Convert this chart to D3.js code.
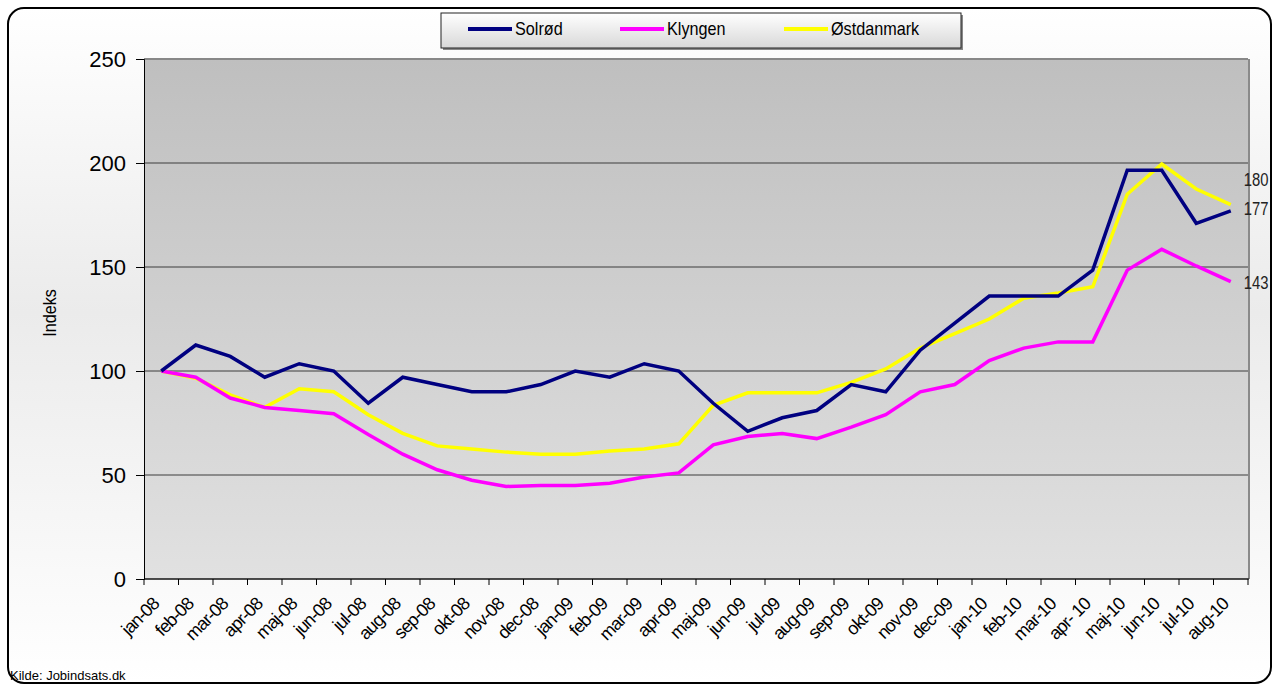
<!DOCTYPE html>
<html>
<head>
<meta charset="utf-8">
<script src="https://cdn.jsdelivr.net/npm/d3@7"></script>
<style>
  body { margin: 0; background: #fff; }
  svg text { font-family: Arial, "Liberation Sans", sans-serif; }
</style>
</head>
<body>
<svg id="s" width="1273" height="686"></svg>
<script>
var months = ["jan-08","feb-08","mar-08","apr-08","maj-08","jun-08","jul-08","aug-08","sep-08","okt-08","nov-08","dec-08",
              "jan-09","feb-09","mar-09","apr-09","maj-09","jun-09","jul-09","aug-09","sep-09","okt-09","nov-09","dec-09",
              "jan-10","feb-10","mar-10","apr- 10","maj-10","jun-10","jul-10","aug-10"];

var solrod = [100,112.5,107,97,103.5,100,84.5,97,93.5,90,90,93.5,100,97,103.5,100,84.5,71,77.5,81,93.5,90,110,123,136,136,136,148.5,196.5,196.5,171,177];
var klyngen = [100,97,87,82.5,81,79.5,69.5,60,52.5,47.5,44.5,45,45,46,49,51,64.5,68.5,70,67.5,73,79,90,93.5,105,111,114,114,148.5,158.5,150.5,143];
var ostdanmark = [100,96.5,88.5,82.5,91.5,90,79,70,64,62.5,61,60,60,61.5,62.5,65,83.5,89.5,89.5,89.5,94.5,101,111,118,125,135,137.5,140.5,185,199.5,187.5,180];

var seriesNames = ["Solrød","Klyngen","Østdanmark"];
var seriesColors = ["#000080","#ff00ff","#ffff00"];
var yTicks = [0,50,100,150,200,250];
var endLabels = ["177","143","180"];
var labelNudge = [-3, 0, -26];

var svg = d3.select("#s");
var defs = svg.append("defs");

var bgGrad = defs.append("linearGradient").attr("id","bg").attr("x1",0).attr("y1",0).attr("x2",0).attr("y2",1);
bgGrad.append("stop").attr("offset","0%").attr("stop-color","#ffffff");
bgGrad.append("stop").attr("offset","45%").attr("stop-color","#ebebeb");
bgGrad.append("stop").attr("offset","100%").attr("stop-color","#ffffff");

var plotGrad = defs.append("linearGradient").attr("id","pg").attr("x1",0).attr("y1",0).attr("x2",0).attr("y2",1);
plotGrad.append("stop").attr("offset","0%").attr("stop-color","#bfbfbf");
plotGrad.append("stop").attr("offset","100%").attr("stop-color","#e1e1e1");

var legGrad = defs.append("linearGradient").attr("id","lg").attr("x1",0).attr("y1",0).attr("x2",0).attr("y2",1);
legGrad.append("stop").attr("offset","0%").attr("stop-color","#ffffff");
legGrad.append("stop").attr("offset","100%").attr("stop-color","#d8d8d8");

// outer frame
svg.append("rect").attr("x",8).attr("y",8).attr("width",1263).attr("height",675)
  .attr("rx",16).attr("ry",16).attr("fill","url(#bg)").attr("stroke","#000").attr("stroke-width",2);

var pLeft = 144, pRight = 1248, pTop = 59, pBottom = 579;

var x = d3.scaleBand().domain(months).range([pLeft, pRight]).padding(0);
var y = d3.scaleLinear().domain([0,250]).range([pBottom, pTop]);

// plot area
svg.append("rect").attr("x",pLeft).attr("y",pTop).attr("width",pRight-pLeft).attr("height",pBottom-pTop)
  .attr("fill","url(#pg)");
svg.append("line").attr("x1",pRight+1).attr("x2",pRight+1).attr("y1",pTop).attr("y2",pBottom)
  .attr("stroke","#8a8a8a").attr("stroke-width",2);

// gridlines
svg.selectAll(".grid").data(yTicks).enter().append("line")
  .attr("x1",pLeft).attr("x2",pRight)
  .attr("y1",function(d){return y(d);}).attr("y2",function(d){return y(d);})
  .attr("stroke", function(d){return d==250 ? "#888" : "#3c3c3c";})
  .attr("stroke-width",function(d){return d==250 ? 2 : 1;});

// y axis
var yAxis = d3.axisLeft(y).tickValues(yTicks).tickSize(8).tickPadding(10);
var gy = svg.append("g").attr("transform","translate(" + pLeft + ",0)").call(yAxis);
gy.select(".domain").attr("stroke","#000");
gy.selectAll(".tick line").attr("stroke","#000");
gy.selectAll("text").attr("font-size",22).attr("fill","#000")
  .attr("font-family","Arial, 'Liberation Sans', sans-serif");

// x axis, ticks at category boundaries
var gx = svg.append("g").attr("transform","translate(0," + pBottom + ")");
gx.append("line").attr("x1",pLeft).attr("x2",pRight+1).attr("y1",0).attr("y2",0).attr("stroke","#000");
var boundaries = months.map(function(m){return x(m);}).concat([pRight]);
gx.selectAll(".bt").data(boundaries).enter().append("line")
  .attr("x1",function(d){return d;}).attr("x2",function(d){return d;})
  .attr("y1",0).attr("y2",6).attr("stroke","#000");
gx.selectAll(".xl").data(months).enter().append("text")
  .attr("transform",function(d){return "translate(" + (x(d)+x.bandwidth()/2-1) + ",26) rotate(-45)";})
  .attr("text-anchor","end").attr("font-size",18).attr("fill","#000")
  .attr("font-family","'DejaVu Sans', Verdana, sans-serif")
  .attr("letter-spacing",-0.9)
  .text(function(d){return d;});

// y title
svg.append("text").attr("transform","translate(56,313) rotate(-90) scale(0.85,1)")
  .attr("text-anchor","middle").attr("font-size",19)
  .text("Indeks");

// lines
var allSeries = [solrod, klyngen, ostdanmark];
var line = d3.line()
  .x(function(d,i){return x(months[i]) + x.bandwidth()/2;})
  .y(function(d){return y(d);});

[2,1,0].forEach(function(k){
  svg.append("path").datum(allSeries[k]).attr("d",line)
    .attr("fill","none").attr("stroke",seriesColors[k]).attr("stroke-width",3.5)
    .attr("stroke-linejoin","miter");
});

// end labels
allSeries.forEach(function(s,k){
  var last = s.length-1;
  var lx = x(months[last]) + x.bandwidth()/2 + 13;
  var ly = y(s[last]) + labelNudge[k] + 7;
  svg.append("text").attr("transform","translate(" + lx + "," + ly + ") scale(0.78,1)")
    .attr("font-size",19)
    .attr("fill","#222").text(endLabels[k]);
});

// legend
svg.append("rect").attr("x",443).attr("y",15).attr("width",520).attr("height",35).attr("fill","#888");
svg.append("rect").attr("x",441).attr("y",13).attr("width",520).attr("height",35)
  .attr("fill","url(#lg)").attr("stroke","#222").attr("stroke-width",1);
var legX = [468, 620, 784];
seriesNames.forEach(function(n,k){
  svg.append("line").attr("x1",legX[k]).attr("x2",legX[k]+44).attr("y1",29).attr("y2",29)
    .attr("stroke",seriesColors[k]).attr("stroke-width",4);
  svg.append("text").attr("transform","translate(" + (legX[k]+47) + ",35) scale(0.9,1)")
    .attr("font-size",18)
    .text(n);
});

// source
svg.append("text").attr("x",10).attr("y",680).attr("font-size",13).text("Kilde: Jobindsats.dk");
</script>
</body>
</html>
